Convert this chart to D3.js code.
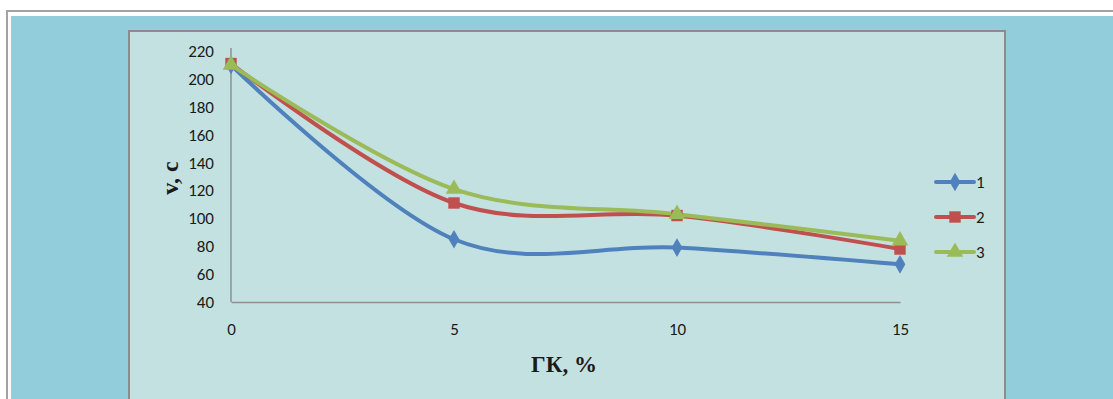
<!DOCTYPE html>
<html>
<head>
<meta charset="utf-8">
<script src="https://cdn.jsdelivr.net/npm/d3@7"></script>
<style>
  html, body { margin: 0; padding: 0; background: #ffffff; }
  svg { display: block; }
</style>
</head>
<body>
<svg id="chart" width="1113" height="399"></svg>
<script>
// Concentration of ГК, %
const xValues = [0, 5, 10, 15];
const xTicks = [0, 5, 10, 15];
const yTicks = [40, 60, 80, 100, 120, 140, 160, 180, 200, 220];

// Series values
const series1 = [210, 85, 79, 67];
const series2 = [211, 111, 102, 78];
const series3 = [210, 121, 103, 84];
const seriesNames = ["1", "2", "3"];
const seriesColors = ["#4F81BD", "#C0504D", "#9BBB59"];

const svg = d3.select("#chart");
const W = 1113, H = 399;

// Outer frame
svg.append("rect").attr("x", 0).attr("y", 0).attr("width", W).attr("height", H).attr("fill", "#ffffff");
svg.append("line").attr("x1", 6).attr("x2", W).attr("y1", 11).attr("y2", 11)
  .attr("stroke", "#a3a3a3").attr("stroke-width", 2);
svg.append("line").attr("x1", 7).attr("x2", 7).attr("y1", 10).attr("y2", H)
  .attr("stroke", "#a3a3a3").attr("stroke-width", 2);
svg.append("rect").attr("x", 11).attr("y", 16).attr("width", W - 11).attr("height", H - 16)
  .attr("fill", "#92CDDB");

// Chart panel
svg.append("rect").attr("x", 129).attr("y", 31).attr("width", 876).attr("height", H)
  .attr("fill", "#C4E1E2").attr("stroke", "#8c8c8c").attr("stroke-width", 2);

const x = d3.scaleLinear().domain([0, 15]).range([231, 900]);
const y = d3.scaleLinear().domain([40, 220]).range([302, 51]);

const tickFont = "Carlito, 'Open Sans', Lato, 'Liberation Sans', sans-serif";

// Axes
const gx = svg.append("g").attr("transform", `translate(0,${y(40)})`)
  .call(d3.axisBottom(x).tickValues(xTicks).tickSize(0).tickPadding(21).tickFormat(d3.format("d")));
const gy = svg.append("g").attr("transform", `translate(${x(0)},0)`)
  .call(d3.axisLeft(y).tickValues(yTicks).tickSize(0).tickPadding(17).tickFormat(d3.format("d")));
[gx, gy].forEach(g => {
  g.select(".domain").attr("stroke", "#8f8f8f").attr("stroke-width", 1.5);
  g.selectAll("text").attr("font-family", tickFont).attr("font-size", 17).attr("fill", "#1a1a1a");
});
gy.select(".domain").attr("d", `M0,${y(40)}V${y(220) - 3}`);

// Axis titles
svg.append("text").attr("x", 564).attr("y", 372).attr("text-anchor", "middle")
  .attr("font-family", "'Liberation Serif', 'DejaVu Serif', serif").attr("font-weight", "bold")
  .attr("font-size", 23).attr("fill", "#1a1a1a").text("ГК, %");
svg.append("text").attr("transform", "translate(178,178) rotate(-90)").attr("text-anchor", "middle")
  .attr("font-family", "'Liberation Serif', 'DejaVu Serif', serif").attr("font-weight", "bold")
  .attr("font-size", 24).attr("fill", "#1a1a1a").text("v, с");

// Series lines and markers
const allSeries = [series1, series2, series3];
const symbols = [d3.symbolDiamond, d3.symbolSquare, d3.symbolTriangle];
const symbolSizes = [100, 130, 120];
const line = d3.line().x(d => x(d[0])).y(d => y(d[1])).curve(d3.curveCardinal.tension(0));

allSeries.forEach((vals, i) => {
  const pts = xValues.map((xv, j) => [xv, vals[j]]);
  svg.append("path").datum(pts).attr("d", line).attr("fill", "none")
    .attr("stroke", seriesColors[i]).attr("stroke-width", 4).attr("stroke-linejoin", "round");
});
allSeries.forEach((vals, i) => {
  const pts = xValues.map((xv, j) => [xv, vals[j]]);
  svg.append("g").selectAll("path").data(pts).join("path")
    .attr("transform", d => `translate(${x(d[0])},${y(d[1])})`)
    .attr("d", d3.symbol().type(symbols[i]).size(symbolSizes[i]))
    .attr("fill", seriesColors[i]);
});

// Legend
const legend = svg.append("g");
seriesNames.forEach((name, i) => {
  const ly = 182 + i * 35;
  legend.append("line").attr("x1", 936).attr("x2", 974).attr("y1", ly).attr("y2", ly)
    .attr("stroke", seriesColors[i]).attr("stroke-width", 4).attr("stroke-linecap", "round");
  legend.append("path").attr("transform", `translate(955,${ly})`)
    .attr("d", d3.symbol().type(symbols[i]).size(symbolSizes[i])).attr("fill", seriesColors[i]);
  legend.append("text").attr("x", 976).attr("y", ly).attr("dy", "0.35em")
    .attr("font-family", tickFont).attr("font-size", 17).attr("fill", "#1a1a1a").text(name);
});
</script>
</body>
</html>
